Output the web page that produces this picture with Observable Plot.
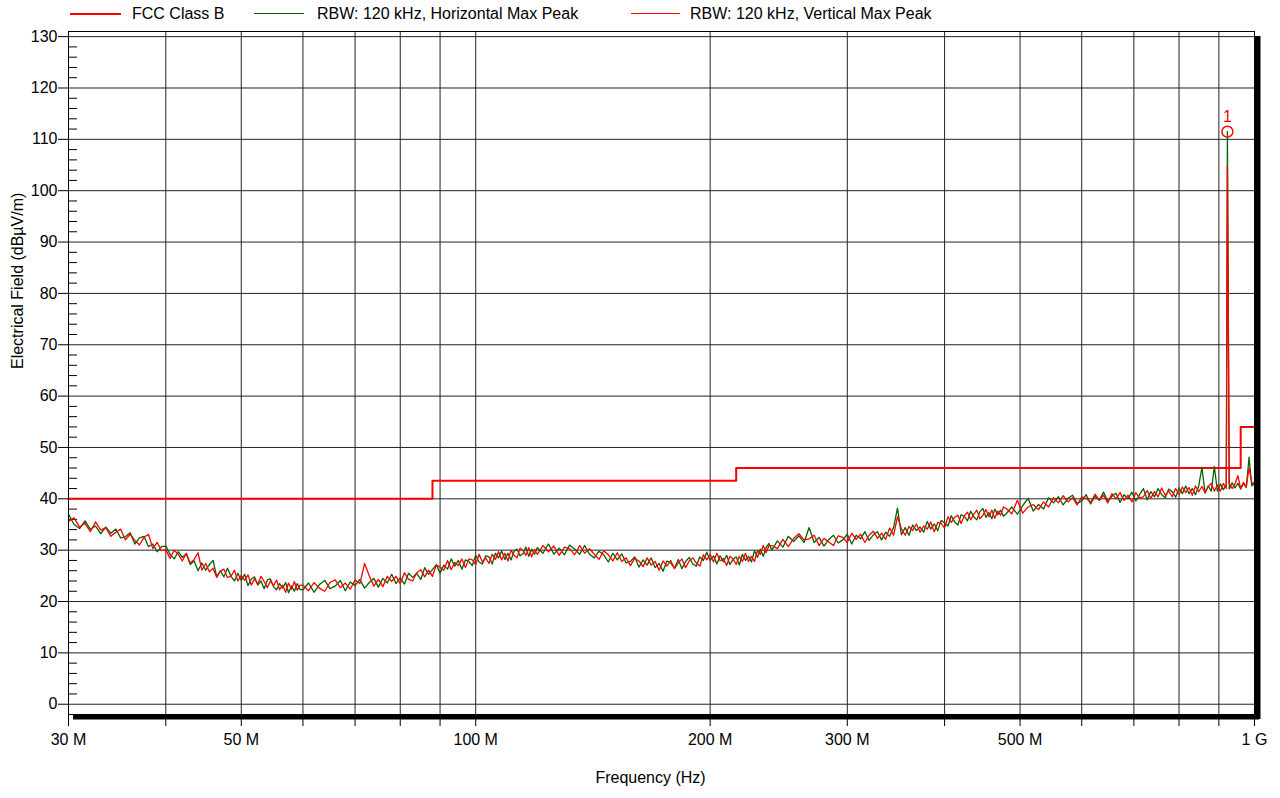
<!DOCTYPE html>
<html>
<head>
<meta charset="utf-8">
<script src="https://cdn.jsdelivr.net/npm/d3@7"></script>
<script src="https://cdn.jsdelivr.net/npm/@observablehq/plot@0.6"></script>
<style>
  body { margin: 0; background: #fff; }
  #wrap { position: relative; width: 1280px; height: 798px; font-family: "Liberation Sans", Arial, sans-serif; }
  #legend { position: absolute; left: 0; top: 0; width: 1280px; height: 28px; font-size: 16px; color: #000; }
  #legend .sw { position: absolute; top: 13px; }
  #legend .lb { position: absolute; top: 5px; line-height: 18px; white-space: nowrap; }
</style>
</head>
<body>
<div id="wrap">
  <div id="legend"></div>
</div>
<script>
// Sweep frequencies (MHz) of the receiver scan
const freqMHz = [
  30,30.5,31,31.5,32,32.5,33,33.5,34,34.5,35,35.5,36,36.5,37,37.5,38,38.5,39,39.5,
  40,40.5,41,41.5,42,42.5,43,43.5,44,44.5,45,45.5,46,46.5,47,47.5,48,48.5,49,49.5,
  50,50.5,51,51.5,52,52.5,53,53.5,54,54.5,55,55.5,56,56.5,57,57.5,58,58.5,59,59.5,
  60,61,62,63,64,65,66,67,68,69,70,71,72,73,74,75,76,77,78,79,
  80,81,82,83,84,85,86,87,88,89,90,91,92,93,94,95,96,97,98,99,
  100,101,102,103,104,105,106,107,108,109,110,111,112,113,114,115,116,117,118,119,
  120,122,124,126,128,130,132,134,136,138,140,142,144,146,148,150,152,154,156,158,
  160,162,164,166,168,170,172,174,176,178,180,182,184,186,188,190,192,194,196,198,
  200,202,204,206,208,210,212,214,216,218,220,222,224,226,228,230,232,234,236,238,
  240,244,248,252,256,260,264,268,272,276,280,284,288,292,296,300,304,308,312,316,
  320,324,328,332,336,340,344,348,352,356,360,364,368,372,376,380,384,388,392,396,
  400,404,408,412,416,420,424,428,432,436,440,444,448,452,456,460,464,468,472,476,
  480,488,496,504,512,520,528,536,544,552,560,568,576,584,592,600,608,616,624,632,
  640,648,656,664,672,680,688,696,704,712,720,728,736,744,752,760,768,776,784,792,
  800,808,816,824,832,840,848,856,864,872,880,888,896,904,912,920,923,928,936,944,
  952,960,968,976,984,992,1000
];

// RBW 120 kHz, horizontal polarisation, max peak (dBµV/m)
const horizontalPeak = [
  37.0,35.0,34.2,35.7,34.1,34.7,33.2,34.5,33.3,34.1,32.4,32.6,33.4,31.2,32.4,32.7,30.7,31.2,29.7,30.7,
  30.8,29.2,28.3,29.7,28.6,29.3,27.2,27.9,26.0,27.5,26.1,27.2,28.0,24.8,26.0,24.8,26.5,24.9,24.0,25.5,
  24.1,25.3,23.1,24.4,24.8,23.2,24.0,22.5,24.2,24.4,22.9,22.3,23.5,22.6,23.7,21.7,23.0,22.0,23.5,22.3,
  22.3,23.6,21.8,23.3,24.1,22.5,23.0,24.1,22.1,23.8,23.1,24.3,22.6,23.7,24.5,22.8,24.5,23.6,25.3,23.5,
  24.6,23.4,25.5,24.7,25.5,24.3,26.6,25.3,26.2,27.2,25.5,27.1,26.3,28.3,26.9,28.0,26.3,28.1,27.8,27.0,
  29.0,27.7,27.3,28.9,28.7,27.3,29.4,28.5,29.9,28.2,29.4,28.1,29.8,30.2,28.9,29.3,30.6,28.8,30.2,29.2,
  30.5,29.4,31.2,29.2,30.4,29.1,31.0,30.2,29.2,30.9,29.2,28.5,29.8,29.1,27.7,29.4,28.1,29.3,27.5,27.8,
  28.7,26.7,28.1,27.1,28.5,26.6,27.4,25.9,27.9,27.5,26.5,28.2,26.4,27.8,28.6,27.3,26.9,28.7,28.0,29.6,
  28.0,28.9,27.3,28.9,27.7,29.0,27.2,28.2,28.7,27.1,29.2,28.0,28.8,27.7,29.9,28.6,30.2,28.8,30.5,31.3,
  30.0,31.8,30.6,32.7,31.7,32.8,31.5,34.4,31.5,32.5,30.8,32.1,32.9,31.4,32.0,33.1,31.2,32.9,32.2,33.6,
  31.9,33.0,33.6,32.0,33.5,32.7,34.4,38.2,33.0,34.4,32.9,34.9,33.8,34.5,33.5,35.6,34.1,35.1,33.8,35.8,
  35.3,34.7,36.7,35.5,34.9,36.9,36.6,35.7,37.6,36.5,35.9,37.5,38.1,36.4,37.3,36.1,38.0,36.9,37.8,36.6,
  37.1,38.4,37.0,38.7,40.1,37.6,38.9,38.0,40.2,39.2,40.4,38.8,40.1,40.7,39.1,39.6,40.8,39.0,40.5,39.7,
  41.3,39.5,40.5,41.1,39.3,40.8,40.0,41.3,39.6,40.8,42.0,39.8,41.4,40.4,42.0,40.8,40.2,41.9,41.4,40.3,
  42.1,41.0,42.5,41.0,42.0,40.8,42.5,46.1,41.1,42.5,41.5,46.3,41.5,42.9,41.8,42.7,111.5,41.9,43.1,42.1,
  43.0,41.9,43.0,42.2,48.1,42.5,43.3
];

// RBW 120 kHz, vertical polarisation, max peak (dBµV/m)
const verticalPeak = [
  35.6,36.3,34.5,35.2,33.6,35.5,33.9,34.4,32.7,33.5,34.1,32.0,33.1,31.9,31.0,32.5,33.1,30.3,31.5,29.9,
  30.1,28.4,30.0,29.2,27.9,29.4,27.5,28.2,29.5,26.1,27.4,25.8,26.5,24.7,25.9,26.3,24.7,24.9,26.1,24.0,
  25.1,24.1,25.2,23.2,24.4,23.4,24.9,23.9,22.7,24.0,23.1,24.2,22.3,23.2,21.8,23.6,22.4,23.9,22.2,23.2,
  23.2,22.1,23.7,22.6,22.0,23.7,24.2,22.7,23.6,22.4,24.2,23.5,27.4,25.0,23.0,24.3,22.9,24.9,23.9,24.9,
  23.5,25.6,24.3,24.0,25.6,26.2,24.8,26.1,24.9,27.1,26.7,26.1,28.0,26.2,27.6,27.0,28.3,26.6,28.3,28.1,
  27.2,29.2,27.7,28.5,27.4,29.2,28.2,29.7,28.1,29.4,27.9,30.0,29.0,28.5,30.4,29.9,29.0,30.5,28.7,30.1,
  29.2,30.9,29.7,30.8,29.0,30.6,30.3,29.1,30.9,29.4,30.3,29.2,28.2,29.9,29.1,27.9,29.5,27.8,28.5,27.0,
  28.4,27.9,26.8,28.5,27.1,27.8,26.1,27.9,26.9,28.0,26.4,27.5,28.3,26.6,27.9,28.5,27.5,26.9,29.1,28.1,
  29.2,27.7,29.4,27.9,28.4,27.0,28.8,28.3,27.2,28.8,27.8,29.4,27.8,28.8,27.8,29.9,29.2,30.9,29.5,30.9,
  30.9,30.3,32.1,30.7,32.3,33.2,32.0,32.2,32.9,30.9,32.3,31.6,30.9,32.8,32.5,31.5,33.3,32.1,33.1,31.5,
  32.9,33.7,32.3,33.3,32.1,34.3,32.9,36.5,34.2,32.9,34.6,33.8,35.1,33.5,34.7,34.1,35.5,33.6,35.4,35.2,
  34.3,36.5,35.4,36.4,36.8,35.2,36.7,37.4,35.9,37.0,37.8,36.1,36.8,37.9,36.5,37.8,36.2,37.6,36.8,38.4,
  38.1,37.1,39.7,37.2,38.4,38.9,37.9,39.4,38.4,40.2,39.2,40.6,39.4,40.2,38.8,40.4,40.1,39.3,40.9,39.7,
  40.7,39.2,41.0,40.0,41.2,39.7,40.7,39.4,41.2,40.2,40.4,41.6,40.1,41.4,40.4,42.1,40.7,41.5,40.4,42.0,
  40.8,42.3,41.2,42.2,40.7,42.5,41.4,42.4,41.2,42.4,43.0,41.5,42.7,41.5,43.0,42.0,104.8,43.0,42.0,42.9,
  44.5,42.0,43.2,42.3,46.0,43.2,42.6
];

// FCC Part 15 Class B radiated limit (3 m), stepping at each band edge
const limitFreqMHz = [30, 88, 216, 960, 1000];
const limitLevel = [40, 43.5, 46, 54, 54];

// Axes
const xDomain = [30, 1000];
const yDomain = [-2, 131];
const xTickMHz = [30, 40, 50, 60, 70, 80, 90, 100, 200, 300, 400, 500, 600, 700, 800, 900, 1000];
const xGridMHz = [40, 50, 60, 70, 80, 90, 100, 200, 300, 400, 500, 600, 700, 800, 900];
const xLabelMHz = [30, 50, 100, 200, 300, 500, 1000];
const xLabelText = ["30 M", "50 M", "100 M", "200 M", "300 M", "500 M", "1 G"];
const yMajorTicks = [0, 10, 20, 30, 40, 50, 60, 70, 80, 90, 100, 110, 120, 130];
const yMinorTicks = [2, 4, 6, 8, 12, 14, 16, 18, 22, 24, 26, 28, 32, 34, 36, 38, 42, 44, 46, 48,
  52, 54, 56, 58, 62, 64, 66, 68, 72, 74, 76, 78, 82, 84, 86, 88, 92, 94, 96, 98,
  102, 104, 106, 108, 112, 114, 116, 118, 122, 124, 126, 128];
const xTitle = "Frequency (Hz)";
const yTitle = "Electrical Field (dBµV/m)";

// Legend entries
const legendNames = ["FCC Class B", "RBW: 120 kHz, Horizontal Max Peak", "RBW: 120 kHz, Vertical Max Peak"];
const legendColors = ["#ff0000", "#006400", "#ff0000"];
const legendWidths = [2, 1, 1];

const RED = "#ff0000";
const GREEN = "#006400";

const sweep = freqMHz.map((f, i) => ({f, h: horizontalPeak[i], v: verticalPeak[i]}));
const limit = limitFreqMHz.map((f, i) => ({f, level: limitLevel[i]}));
const labelByMHz = new Map(xLabelMHz.map((f, i) => [f, xLabelText[i]]));

// Marker 1 sits on the highest horizontal reading
const peak = d3.greatest(sweep, d => d.h);

const chart = Plot.plot({
  width: 1280,
  height: 798,
  marginLeft: 68,
  marginRight: 26,
  marginTop: 31,
  marginBottom: 84,
  style: {fontFamily: "'Liberation Sans', Arial, sans-serif", fontSize: "16px", color: "#000", background: "#fff", overflow: "visible"},
  x: {type: "log", domain: xDomain, label: null},
  y: {domain: yDomain, label: null},
  marks: [
    Plot.gridX(xGridMHz, {stroke: "#222", strokeOpacity: 1}),
    Plot.gridY(yMajorTicks, {stroke: "#222", strokeOpacity: 1}),
    Plot.axisY(yMinorTicks, {tickSize: 9, dx: 9, tickFormat: () => "", label: null}),
    Plot.axisY(yMajorTicks, {tickSize: 10, tickPadding: 1, label: null}),
    Plot.axisX(xTickMHz, {tickSize: 12, tickPadding: 7, tickFormat: d => labelByMHz.get(d) ?? "", label: null}),
    Plot.line(limit, {x: "f", y: "level", curve: "step-after", stroke: RED, strokeWidth: 2}),
    Plot.line(sweep, {x: "f", y: "h", stroke: GREEN, strokeWidth: 1.3}),
    Plot.line(sweep, {x: "f", y: "v", stroke: RED, strokeWidth: 1.3}),
    Plot.dot([peak], {x: "f", y: "h", r: 5.5, stroke: RED, fill: "none"}),
    Plot.text([peak], {x: "f", y: "h", text: () => "1", dy: -15, fill: RED, fontSize: 16}),
    Plot.frame({stroke: "#000"}),
    // drop shadow along the bottom and right edges of the frame
    Plot.ruleY([yDomain[0]], {stroke: "#000", strokeWidth: 5, dx: 5, dy: 2.5}),
    Plot.ruleX([xDomain[1]], {stroke: "#000", strokeWidth: 6, dx: 3, dy: 5}),
    Plot.text([xTitle], {text: d => d, frameAnchor: "bottom", dy: 68, dx: -11}),
    Plot.text([yTitle], {text: d => d, frameAnchor: "left", rotate: -90, dx: -51, dy: -4})
  ]
});

const wrap = document.getElementById("wrap");
wrap.insertBefore(chart, wrap.firstChild);

// Legend row above the plot frame
const legend = document.getElementById("legend");
const swatchLeft = [70, 254, 631];
const swatchLen = [51, 50, 49];
const labelLeft = [132, 317, 690];
legendNames.forEach((name, i) => {
  const sw = document.createElement("div");
  sw.className = "sw";
  sw.style.left = swatchLeft[i] + "px";
  sw.style.width = swatchLen[i] + "px";
  sw.style.borderTop = `${legendWidths[i]}px solid ${legendColors[i]}`;
  legend.appendChild(sw);
  const lb = document.createElement("div");
  lb.className = "lb";
  lb.style.left = labelLeft[i] + "px";
  lb.textContent = name;
  legend.appendChild(lb);
});
</script>
</body>
</html>
